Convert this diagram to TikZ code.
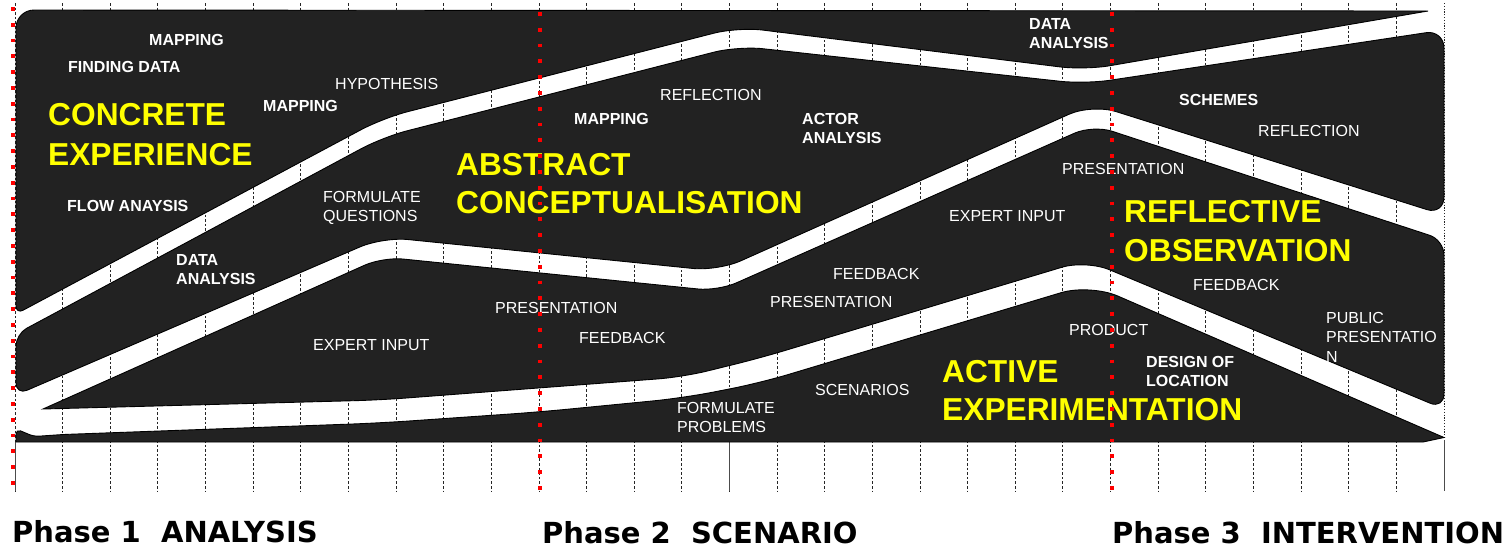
\documentclass[tikz,border=0pt]{standalone}
\usepackage{fontspec}
\setmainfont{Liberation Sans}
\newfontfamily\phasefont{DejaVu Sans}
\definecolor{bandgray}{HTML}{222222}
\definecolor{labyellow}{HTML}{FFFF00}
\begin{document}
\begin{tikzpicture}[x=1pt,y=-1pt,
  bandfill/.style={fill=bandgray, draw=black, line width=0.9pt},
  gridline/.style={draw=black!85, line width=0.9pt, dash pattern=on 2.6pt off 2pt},
  gridsolid/.style={draw=black!70, line width=0.9pt},
  reddots/.style={draw=red, line width=3.8pt, dash pattern=on 3.8pt off 12pt},
  lab/.style={text=white, font=\fontsize{16}{18}\selectfont, inner sep=0pt, anchor=base west},
  labb/.style={text=white, font=\fontsize{16}{18}\selectfont\bfseries, inner sep=0pt, anchor=base west},
  big/.style={text=labyellow, font=\fontsize{31.7}{36}\selectfont\bfseries, inner sep=0pt, anchor=base west},
  phase/.style={text=black, font=\phasefont\fontsize{29}{34}\selectfont\bfseries, inner sep=0pt, anchor=base west}]
\useasboundingbox (0,0) rectangle (1511,549);
\fill[white] (0,0) rectangle (1511,549);

% grid
\foreach \k in {0,...,29} {
  \draw[gridline] ({15+47.633*\k},3) -- ({15+47.633*\k},491);
}
\draw[draw=black!85, line width=0.8pt, dash pattern=on 1.2pt off 1.6pt] (1444,3) -- (1444,440);
\draw[gridsolid] (15,442) -- (15,491);
\draw[gridsolid] (729.5,442) -- (729.5,491);
\draw[gridsolid] (1444,440) -- (1444,491);

% band 1
\path[bandfill] (16,150) [rounded corners=18pt] -- (16,10) -- (700,10.5) [sharp corners] -- (1428,11) -- (1256.5,40.5)
  [rounded corners=25pt] -- (1085,70) -- (738,27) -- (383,118) -- (200,215.7)
  [rounded corners=8pt] -- (16,314) -- cycle;

% band 2
\path[bandfill] (16,370) [rounded corners=12pt] -- (16,334) -- (200,235.3)
  [rounded corners=25pt] -- (383,137) -- (738,46) -- (1085,84) -- (1264.5,57)
  [rounded corners=18pt] -- (1444,30) -- (1444,215) -- (1268,159.5)
  [rounded corners=25pt] -- (1092,104) -- (718,271) -- (383,237) -- (200,315.8)
  [rounded corners=12pt] -- (16,395) -- cycle;

% band 3
\path[bandfill] (43,409) -- (213,333)
  [rounded corners=20pt] -- (383,257) -- (718,291) -- (1093,125) -- (1268,182.3)
  [rounded corners=15pt] -- (1444,240) -- (1444,409) -- (1265,334.5)
  [rounded corners=25pt] -- (1086,260) -- (760,358) -- (683,377) -- (380,400) -- (211.5,404.5)
  [sharp corners] -- cycle;

% band 4
\path[bandfill] (16,442) [rounded corners=5pt] -- (16,429) -- (34,436.5) -- (63,434.5)
  [rounded corners=30pt] -- (380,423) -- (539,412) -- (683,398) -- (760,383) -- (1090,284) -- (1267,360.7)
  [sharp corners] -- (1444,437.5) -- (1423,442) -- cycle;

% labels band 1
\node[labb] (m1) at (149,45) {MAPPING};
\node[labb] (fd) at (68,72) {FINDING DATA};
\node[labb] (m2) at (263,111) {MAPPING};
\node[lab] (hy) at (335,89) {HYPOTHESIS};
\node[labb] (fa) at (67,211) {FLOW ANAYSIS};
\node[big] (ce1) at (48,125) {CONCRETE};
\node[big] (ce2) at (48,165) {EXPERIENCE};
\node[labb] (da3a) at (1029,29) {DATA};
\node[labb] (da3b) at (1029,48) {ANALYSIS};

% labels band 2
\node[labb] (da1a) at (176,265) {DATA};
\node[labb] (da1b) at (176,284) {ANALYSIS};
\node[lab] (fq1) at (323,202) {FORMULATE};
\node[lab] (fq2) at (323,221) {QUESTIONS};
\node[big] (ac1) at (456,175) {ABSTRACT};
\node[big] (ac2) at (456,213) {CONCEPTUALISATION};
\node[labb] (m3) at (574,124) {MAPPING};
\node[lab] (rf1) at (660,100) {REFLECTION};
\node[labb] (aa1) at (802,124) {ACTOR};
\node[labb] (aa2) at (802,143) {ANALYSIS};
\node[labb] (sc) at (1179,105) {SCHEMES};
\node[lab] (rf2) at (1258,136) {REFLECTION};

% labels band 3
\node[lab] (ei1) at (313,350) {EXPERT INPUT};
\node[lab] (pr1) at (495,313) {PRESENTATION};
\node[lab] (fb1) at (579,343) {FEEDBACK};
\node[lab] (pr2) at (770,307) {PRESENTATION};
\node[lab] (fb2) at (833,279) {FEEDBACK};
\node[lab] (ei2) at (949,221) {EXPERT INPUT};
\node[lab] (pr3) at (1062,174) {PRESENTATION};
\node[big] (ro1) at (1124,222) {REFLECTIVE};
\node[big] (ro2) at (1124,261) {OBSERVATION};
\node[lab] (fb3) at (1193,290) {FEEDBACK};
\node[lab] (pp1) at (1326,323) {PUBLIC};
\node[lab] (pp2) at (1326,342) {PRESENTATIO};
\node[lab] (pp3) at (1326,362) {N};

% labels band 4
\node[lab] (fp1) at (677,413) {FORMULATE};
\node[lab] (fp2) at (677,432) {PROBLEMS};
\node[lab] (scn) at (815,395) {SCENARIOS};
\node[lab] (pd) at (1069,335) {PRODUCT};
\node[big] (ae1) at (942,382) {ACTIVE};
\node[big] (ae2) at (942,420) {EXPERIMENTATION};
\node[labb] (dl1) at (1146,367) {DESIGN OF};
\node[labb] (dl2) at (1146,386) {LOCATION};

% red phase lines
\draw[reddots] (13,7) -- (13,494);
\draw[reddots] (540,12) -- (540,494);
\draw[reddots] (1112,12) -- (1112,494);

% phase labels
\node[phase] (p1) at (12,542) {Phase 1\ \ ANALYSIS};
\node[phase] (p2) at (542,543) {Phase 2\ \ SCENARIO};
\node[phase] (p3) at (1112,543) {Phase 3\ \ INTERVENTION};
\end{tikzpicture}
\end{document}
